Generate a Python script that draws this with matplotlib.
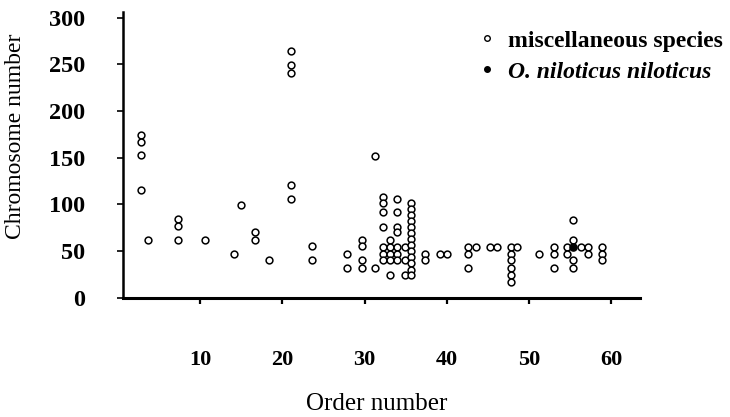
import matplotlib
matplotlib.use('Agg')
import matplotlib.pyplot as plt
from matplotlib.lines import Line2D

plt.rcParams['font.family'] = ['Liberation Serif', 'DejaVu Serif']

# order number of each column of points and the chromosome numbers in it
order_cols = [2.8, 3.7, 7.3, 10.6, 14.1, 15.0, 16.7, 18.4, 21.0, 23.6,
              27.9, 29.7, 31.3, 32.3, 33.1, 34.0, 34.9, 35.6, 37.4, 39.2,
              40.0, 42.6, 43.6, 45.2, 46.1, 47.8, 48.6, 51.2, 53.0, 54.6,
              55.4, 56.3, 57.2, 58.9]
chrom_cols = [
    [174, 167, 153, 115],
    [62],
    [84, 77, 62],
    [62],
    [47],
    [99],
    [70, 62],
    [40],
    [264, 249, 241, 121, 106],
    [55, 40],
    [47, 32],
    [62, 55, 40, 32],
    [152, 32],
    [108, 101, 92, 76, 54, 47, 40],
    [62, 54, 47, 40, 24],
    [106, 92, 76, 70, 54, 47, 40],
    [54, 40, 24],
    [101, 95, 88, 82, 76, 69, 63, 56, 50, 43, 37, 30, 24],
    [47, 40],
    [47],
    [47],
    [54, 47, 32],
    [54],
    [54],
    [54],
    [54, 47, 40, 32, 24, 17],
    [54],
    [47],
    [54, 47, 32],
    [54, 47],
    [83, 62, 40, 32],
    [54],
    [54, 47],
    [54, 47, 40],
]

nil_order = [55.4]
nil_chrom = [54]

x_ticks = [10, 20, 30, 40, 50, 60]
y_ticks = [0, 50, 100, 150, 200, 250, 300]
labels = ['miscellaneous species', 'O. niloticus niloticus']

fig = plt.figure(figsize=(7.3, 4.17), dpi=100)
ax = fig.add_axes([123/730, 1-297.5/417, 517/730, 285.5/417])

xs = []
ys = []
for o, cs in zip(order_cols, chrom_cols):
    for c in cs:
        xs.append(o)
        ys.append(c)

ax.scatter(xs, ys, s=24, facecolors='white', edgecolors='black',
           linewidths=1.1, zorder=3)
ax.scatter(nil_order, nil_chrom, s=26, facecolors='black',
           edgecolors='black', linewidths=1.1, zorder=4)

ax.set_xlim(0.63, 63.5)
ax.set_ylim(0, 306)
ax.set_xticks(x_ticks)
ax.set_yticks(y_ticks)

for s in ['top', 'right']:
    ax.spines[s].set_visible(False)
ax.spines['left'].set_linewidth(1.8)
ax.spines['bottom'].set_linewidth(2.2)

ax.tick_params(axis='x', direction='out', length=4.5, width=1.6, pad=33,
               labelsize=16)
ax.tick_params(axis='y', direction='out', length=4.5, width=1.2, pad=23,
               labelsize=17.5)
for t in ax.get_xticklabels() + ax.get_yticklabels():
    t.set_fontweight('bold')

fig.text(16/730, 1-136/417, 'Chromosome number', rotation=90,
         ha='center', va='center', fontsize=17)
fig.text(377/730, 1-404/417, 'Order number', ha='center', va='center',
         fontsize=18)

handles = [Line2D([], [], marker='o', ls='', mfc='white', mec='black',
                  ms=4, mew=1.0),
           Line2D([], [], marker='o', ls='', mfc='black', mec='black',
                  ms=4, mew=1.0)]
leg = fig.legend(handles, labels, loc='upper left',
                 bbox_to_anchor=(480/730, 1-30/417), frameon=False,
                 handlelength=0.6, handletextpad=0.6, labelspacing=0.4,
                 borderpad=0, borderaxespad=0,
                 prop={'size': 17, 'weight': 'bold'})
leg.get_texts()[1].set_style('italic')

fig.savefig('out.png', dpi=100)
